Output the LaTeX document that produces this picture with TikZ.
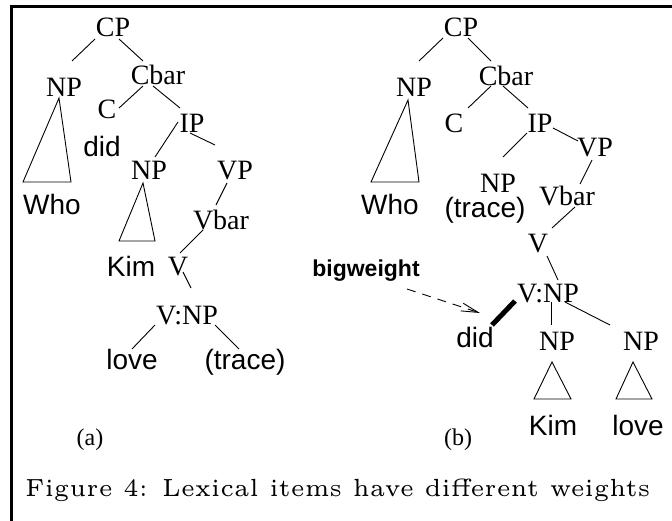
\documentclass[tikz,border=0pt]{standalone}
\usepackage{fontspec}
\usepackage{graphicx}
\newfontfamily\tms{Liberation Serif}
\newfontfamily\hv{Liberation Sans}
\usetikzlibrary{arrows.meta}
\begin{document}
\begin{tikzpicture}[x=1pt,y=-1pt,
  cat/.style={font=\tms\fontsize{28}{30}\selectfont, inner sep=0pt, anchor=base},
  word/.style={font=\hv\fontsize{28}{30}\selectfont, inner sep=0pt, anchor=base},
  lab/.style={font=\tms\fontsize{24}{26}\selectfont, inner sep=0pt, anchor=base},
  bold/.style={font=\hv\bfseries\fontsize{23}{25}\selectfont, inner sep=0pt, anchor=base},
  br/.style={line width=0.9pt, line join=miter},
  heavy/.style={line width=5pt},
  pointer/.style={line width=0.9pt, dash pattern=on 9pt off 7pt, -{Straight Barb[length=17pt,width=8pt,line width=0.9pt]}}]
\useasboundingbox (0,0) rectangle (672,521);
\draw[line width=2.8pt] (11.7,521) -- (11.7,6.3) -- (672,6.3);
% ---------------- tree (a)
\node[cat] (aCP) at (113,37) {CP};
\node[cat] (aNP) at (64,97) {NP};
\node[cat] (aCbar) at (158,85) {Cbar};
\node[cat] (aC) at (107,119) {C};
\node[word] (adid) at (102,157) {did};
\node[cat] (aIP) at (192,133) {IP};
\node[cat] (aNPk) at (149,180) {NP};
\node[cat] (aVP) at (235,180) {VP};
\node[word] (aWho) at (52,215) {Who};
\node[cat] (aVbar) at (221,230) {Vbar};
\node[word] (aKim) at (131,277) {Kim};
\node[cat] (aV) at (178,276) {V};
\node[cat] (aVNP) at (187,325) {V:NP};
\node[word] (alove) at (132,369) {love};
\node[word] (atrace) at (245,369) {(trace)};
\node[lab] (alabel) at (90,445) {(a)};
\draw[br] ([shift={(-18,2)}]aCP.base) -- ([shift={(8,-36)}]aNP.base);
\draw[br] ([shift={(6,2)}]aCP.base) -- ([shift={(-15,-24)}]aCbar.base);
\draw[br] ([shift={(-15,1)}]aCbar.base) -- ([shift={(12,-11)}]aC.base);
\draw[br] ([shift={(-5,1)}]aCbar.base) -- ([shift={(-12,-25)}]aIP.base);
\draw[br] ([shift={(-14,-11)}]aIP.base) -- ([shift={(6,-23)}]aNPk.base);
\draw[br] ([shift={(-2,0)}]aIP.base) -- ([shift={(-20,-35)}]aVP.base);
\draw[br] ([shift={(-8,3)}]aVP.base) -- ([shift={(-5,-25)}]aVbar.base);
\draw[br] ([shift={(-18,0)}]aVbar.base) -- ([shift={(2,-23)}]aV.base);
\draw[br] ([shift={(5,-4)}]aV.base) -- ([shift={(4,-37)}]aVNP.base);
\draw[br] ([shift={(-32,0)}]aVNP.base) -- ([shift={(0,-20)}]alove.base);
\draw[br] ([shift={(28,0)}]aVNP.base) -- ([shift={(-6,-20)}]atrace.base);
\draw[br] ([shift={(-5,1)}]aNP.base) -- ([shift={(-29,-33)}]aWho.base) -- ([shift={(19,-33)}]aWho.base) -- cycle;
\draw[br] ([shift={(-6,3)}]aNPk.base) -- ([shift={(-12,-36)}]aKim.base) -- ([shift={(24,-36)}]aKim.base) -- cycle;
% ---------------- tree (b)
\node[cat] (bCP) at (461,37) {CP};
\node[cat] (bNP) at (414,97) {NP};
\node[cat] (bCbar) at (506,86) {Cbar};
\node[cat] (bC) at (454,133) {C};
\node[cat] (bIP) at (540,133) {IP};
\node[cat] (bVP) at (595,157) {VP};
\node[cat] (bNPt) at (498,193) {NP};
\node[word] (btrace) at (485,218) {(trace)};
\node[word] (bWho) at (390,215) {Who};
\node[cat] (bVbar) at (567,206) {Vbar};
\node[cat] (bV) at (538,253) {V};
\node[cat] (bVNP) at (548,303) {V:NP};
\node[word] (bdid) at (475,348) {did};
\node[cat] (bNPa) at (557,350) {NP};
\node[cat] (bNPb) at (641,350) {NP};
\node[word] (bKim) at (553,435) {Kim};
\node[word] (blove) at (638,435) {love};
\node[lab] (blabel) at (458,445) {(b)};
\node[bold] (bw) at (366,277) {bigweight};
\draw[br] ([shift={(-18,1)}]bCP.base) -- ([shift={(5,-36)}]bNP.base);
\draw[br] ([shift={(7,1)}]bCP.base) -- ([shift={(-15,-25)}]bCbar.base);
\draw[br] ([shift={(-15,0)}]bCbar.base) -- ([shift={(14,-25)}]bC.base);
\draw[br] ([shift={(-3,0)}]bCbar.base) -- ([shift={(-12,-25)}]bIP.base);
\draw[br] ([shift={(-13,0)}]bIP.base) -- ([shift={(5,-36)}]bNPt.base);
\draw[br] ([shift={(13,-5)}]bIP.base) -- ([shift={(-17,-16)}]bVP.base);
\draw[br] ([shift={(-3,3)}]bVP.base) -- ([shift={(13,-22)}]bVbar.base);
\draw[br] ([shift={(8,1)}]bVbar.base) -- ([shift={(14,-25)}]bV.base);
\draw[br] ([shift={(9,3)}]bV.base) -- ([shift={(10,-23)}]bVNP.base);
\draw[heavy] ([shift={(-33,-2)}]bVNP.base) -- ([shift={(17,-23)}]bdid.base);
\draw[br] ([shift={(3,-1)}]bVNP.base) -- ([shift={(-6,-25)}]bNPa.base);
\draw[br] ([shift={(17,-1)}]bVNP.base) -- ([shift={(-31,-25)}]bNPb.base);
\draw[br] ([shift={(-6,3)}]bNP.base) -- ([shift={(-19,-33)}]bWho.base) -- ([shift={(29,-33)}]bWho.base) -- cycle;
\draw[br] ([shift={(-5,12)}]bNPa.base) -- ([shift={(-19,-36)}]bKim.base) -- ([shift={(18,-36)}]bKim.base) -- cycle;
\draw[br] ([shift={(-8,12)}]bNPb.base) -- ([shift={(-22,-36)}]blove.base) -- ([shift={(14,-36)}]blove.base) -- cycle;
\draw[pointer] ([shift={(41,12)}]bw.base) -- ([shift={(5,-35)}]bdid.base);
% ---------------- caption
\node[anchor=base west, inner sep=0pt] (cap) at (25,496) {\resizebox{625pt}{17.5pt}{\fontsize{5}{6}\selectfont Figure 4: Lexical items have different weights}};
\end{tikzpicture}
\end{document}
